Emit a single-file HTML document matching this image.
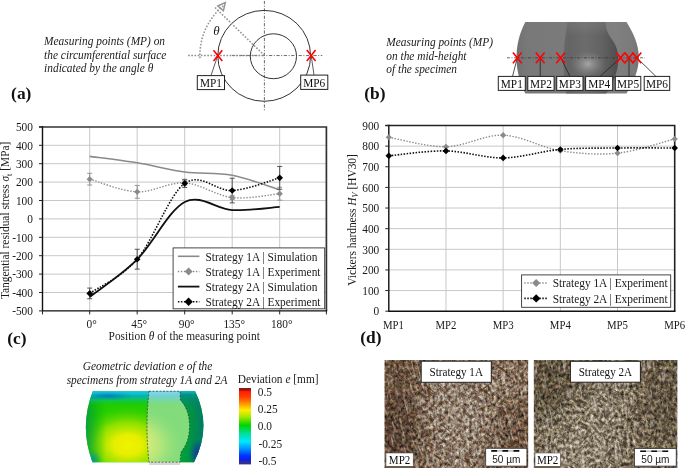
<!DOCTYPE html>
<html><head><meta charset="utf-8"><style>
html,body{margin:0;padding:0;background:#fff;font-family:"Liberation Serif",serif;width:685px;height:468px;overflow:hidden}
svg{display:block;will-change:transform}
</style></head><body>
<svg width="685" height="468" viewBox="0 0 685 468" font-family="'Liberation Serif', serif">
<text transform="translate(44.10,45.40) scale(0.965,1)" font-size="11.8" fill="#1a1a1a" font-style="italic">Measuring points (MP) on</text>
<text transform="translate(44.10,58.90) scale(0.965,1)" font-size="11.8" fill="#1a1a1a" font-style="italic">the circumferential surface</text>
<text transform="translate(44.10,72.40) scale(0.965,1)" font-size="11.8" fill="#1a1a1a" font-style="italic">indicated by the angle θ</text>
<text transform="translate(11.10,98.60)" font-size="17.4" fill="#111" font-weight="bold">(a)</text>
<g stroke="#444" stroke-width="0.8" fill="none" stroke-dasharray="3.2,1.6,1,1.6"><line x1="232" y1="55.55" x2="322.3" y2="55.55"/><line x1="264.40" y1="0.9" x2="264.40" y2="110.6"/></g>
<line x1="188.1" y1="55.55" x2="264.40" y2="55.55" stroke="#8a8a8a" stroke-width="1.4" stroke-dasharray="1.6,1.6"/>
<ellipse cx="264.2" cy="55.85" rx="46.4" ry="45.45" fill="none" stroke="#333" stroke-width="1"/>
<ellipse cx="273.4" cy="56.25" rx="23.1" ry="22.45" fill="none" stroke="#333" stroke-width="1"/>
<line x1="264.4" y1="55.5" x2="213.9" y2="6.4" stroke="#959595" stroke-width="1.6" stroke-dasharray="1.6,1.6"/>
<path d="M199.95,58.14 A64.5,64.5 0 0 1 224.25,5.07" fill="none" stroke="#959595" stroke-width="1.6" stroke-dasharray="1.6,1.6"/>
<path d="M217.8,6.0 L225.3,2.6 L223.4,10.6 Z" fill="none" stroke="#959595" stroke-width="1.5" stroke-linejoin="miter"/>
<text transform="translate(213.20,35.30)" font-size="13" fill="#1a1a1a" font-style="italic">θ</text>
<line x1="217.7" y1="55.7" x2="211" y2="75.5" stroke="#333" stroke-width="0.8"/>
<line x1="311.2" y1="55.5" x2="314" y2="75" stroke="#333" stroke-width="0.8"/>
<rect x="197.30" y="75.60" width="27.20" height="14.00" fill="#fff" stroke="#222" stroke-width="1"/><text transform="translate(210.90,87.00) scale(0.900,1)" font-size="12.6" fill="#111" text-anchor="middle">MP1</text>
<rect x="300.70" y="75.10" width="27.10" height="14.30" fill="#fff" stroke="#222" stroke-width="1"/><text transform="translate(314.25,86.80) scale(0.900,1)" font-size="12.6" fill="#111" text-anchor="middle">MP6</text>
<path d="M213.50,50.30 L222.30,61.10 M222.30,50.30 L213.50,61.10" stroke="#ff0000" stroke-width="1.6" fill="none"/>
<path d="M306.80,50.10 L315.60,60.90 M315.60,50.10 L306.80,60.90" stroke="#ff0000" stroke-width="1.6" fill="none"/>
<text transform="translate(386.30,45.90) scale(0.965,1)" font-size="11.8" fill="#1a1a1a" font-style="italic">Measuring points (MP)</text>
<text transform="translate(386.30,59.60) scale(0.965,1)" font-size="11.8" fill="#1a1a1a" font-style="italic">on the mid-height</text>
<text transform="translate(386.30,73.30) scale(0.965,1)" font-size="11.8" fill="#1a1a1a" font-style="italic">of the specimen</text>
<text transform="translate(364.30,98.60)" font-size="17.4" fill="#111" font-weight="bold">(b)</text>
<defs>
<linearGradient id="bodyg" x1="516" y1="0" x2="640" y2="0" gradientUnits="userSpaceOnUse">
<stop offset="0" stop-color="#707070"/><stop offset="0.08" stop-color="#787878"/><stop offset="0.5" stop-color="#7c7c7c"/><stop offset="0.8" stop-color="#808080"/><stop offset="0.95" stop-color="#7a7a7a"/><stop offset="1" stop-color="#727272"/>
</linearGradient>
<linearGradient id="holeg" x1="563" y1="0" x2="619" y2="0" gradientUnits="userSpaceOnUse">
<stop offset="0" stop-color="#6a6a6a"/><stop offset="0.1" stop-color="#646464"/><stop offset="0.4" stop-color="#6c6c6c"/><stop offset="0.7" stop-color="#626262"/><stop offset="0.9" stop-color="#545454"/><stop offset="1" stop-color="#4c4c4c"/>
</linearGradient>
<linearGradient id="holetop" x1="0" y1="22" x2="0" y2="36" gradientUnits="userSpaceOnUse">
<stop offset="0" stop-color="#8a8a8a" stop-opacity="0.35"/><stop offset="1" stop-color="#8a8a8a" stop-opacity="0"/></linearGradient>
<radialGradient id="holehl" cx="588" cy="64" r="15" gradientTransform="translate(588,64) scale(1.2,0.9) translate(-588,-64)" gradientUnits="userSpaceOnUse">
<stop offset="0" stop-color="#a6a6a6"/><stop offset="0.5" stop-color="#8c8c8c" stop-opacity="0.6"/><stop offset="1" stop-color="#7a7a7a" stop-opacity="0"/></radialGradient>
</defs>
<path d="M525.3,22 L626.5,22 C633.5,33 638.8,45 638.8,57.7 C638.8,70 633.5,82 626.5,93.6 L525.3,93.6 C519.5,82 516.5,70 516.5,57.7 C516.5,45 519.5,33 525.3,22 Z" fill="url(#bodyg)"/>
<path d="M567.5,22 L605.3,22 C605.5,30 609,35 613,41 C617,47 618.4,53 618.3,60 C618,72 613,84 606,93.6 L566,93.6 C564,81 563.3,69 563.5,57 C563.8,45 565.5,33 567.5,22 Z" fill="url(#holeg)"/>
<path d="M567.5,22 L605.3,22 C605.5,30 609,35 613,41 C617,47 618.4,53 618.3,60 C618,72 613,84 606,93.6 L566,93.6 C564,81 563.3,69 563.5,57 C563.8,45 565.5,33 567.5,22 Z" fill="url(#holetop)"/>
<path d="M567.5,22 L605.3,22 C605.5,30 609,35 613,41 C617,47 618.4,53 618.3,60 C618,72 613,84 606,93.6 L566,93.6 C564,81 563.3,69 563.5,57 C563.8,45 565.5,33 567.5,22 Z" fill="url(#holehl)"/>
<line x1="507" y1="57.8" x2="645" y2="57.8" stroke="#333" stroke-width="0.7" stroke-dasharray="3,1.5,1,1.5"/>
<line x1="517.3" y1="57.8" x2="512.5" y2="76.5" stroke="#222" stroke-width="0.8"/>
<line x1="540.2" y1="57.8" x2="540.2" y2="76.5" stroke="#222" stroke-width="0.8"/>
<line x1="560.7" y1="57.8" x2="570.0" y2="76.5" stroke="#222" stroke-width="0.8"/>
<line x1="620.6" y1="57.8" x2="600.0" y2="76.5" stroke="#222" stroke-width="0.8"/>
<line x1="629.0" y1="57.8" x2="629.0" y2="76.5" stroke="#222" stroke-width="0.8"/>
<line x1="636.9" y1="57.8" x2="656.0" y2="76.5" stroke="#222" stroke-width="0.8"/>
<rect x="498.30" y="76.40" width="27.00" height="14.00" fill="#fff" stroke="#222" stroke-width="1"/><text transform="translate(511.80,87.80) scale(0.900,1)" font-size="12.6" fill="#111" text-anchor="middle">MP1</text>
<rect x="527.80" y="76.40" width="26.30" height="14.00" fill="#fff" stroke="#222" stroke-width="1"/><text transform="translate(540.95,87.80) scale(0.900,1)" font-size="12.6" fill="#111" text-anchor="middle">MP2</text>
<rect x="556.70" y="76.40" width="26.30" height="14.00" fill="#fff" stroke="#222" stroke-width="1"/><text transform="translate(569.85,87.80) scale(0.900,1)" font-size="12.6" fill="#111" text-anchor="middle">MP3</text>
<rect x="585.60" y="76.40" width="27.10" height="14.00" fill="#fff" stroke="#222" stroke-width="1"/><text transform="translate(599.15,87.80) scale(0.900,1)" font-size="12.6" fill="#111" text-anchor="middle">MP4</text>
<rect x="615.30" y="76.40" width="25.50" height="14.00" fill="#fff" stroke="#222" stroke-width="1"/><text transform="translate(628.05,87.80) scale(0.900,1)" font-size="12.6" fill="#111" text-anchor="middle">MP5</text>
<rect x="644.20" y="76.40" width="25.50" height="14.00" fill="#fff" stroke="#222" stroke-width="1"/><text transform="translate(656.95,87.80) scale(0.900,1)" font-size="12.6" fill="#111" text-anchor="middle">MP6</text>
<path d="M512.90,52.40 L521.70,63.20 M521.70,52.40 L512.90,63.20" stroke="#ff0000" stroke-width="1.6" fill="none"/>
<path d="M535.80,52.40 L544.60,63.20 M544.60,52.40 L535.80,63.20" stroke="#ff0000" stroke-width="1.6" fill="none"/>
<path d="M556.30,52.40 L565.10,63.20 M565.10,52.40 L556.30,63.20" stroke="#ff0000" stroke-width="1.6" fill="none"/>
<path d="M616.20,52.40 L625.00,63.20 M625.00,52.40 L616.20,63.20" stroke="#ff0000" stroke-width="1.6" fill="none"/>
<path d="M624.60,52.40 L633.40,63.20 M633.40,52.40 L624.60,63.20" stroke="#ff0000" stroke-width="1.6" fill="none"/>
<path d="M632.50,52.40 L641.30,63.20 M641.30,52.40 L632.50,63.20" stroke="#ff0000" stroke-width="1.6" fill="none"/>
<g stroke="#c8c8c8" stroke-width="1"><line x1="42.5" y1="292.50" x2="326.4" y2="292.50"/><line x1="42.5" y1="274.10" x2="326.4" y2="274.10"/><line x1="42.5" y1="255.70" x2="326.4" y2="255.70"/><line x1="42.5" y1="237.30" x2="326.4" y2="237.30"/><line x1="42.5" y1="218.90" x2="326.4" y2="218.90"/><line x1="42.5" y1="200.50" x2="326.4" y2="200.50"/><line x1="42.5" y1="182.10" x2="326.4" y2="182.10"/><line x1="42.5" y1="163.70" x2="326.4" y2="163.70"/><line x1="42.5" y1="145.30" x2="326.4" y2="145.30"/><line x1="89.70" y1="127.0" x2="89.70" y2="310.9"/><line x1="137.20" y1="127.0" x2="137.20" y2="310.9"/><line x1="184.70" y1="127.0" x2="184.70" y2="310.9"/><line x1="232.20" y1="127.0" x2="232.20" y2="310.9"/><line x1="279.70" y1="127.0" x2="279.70" y2="310.9"/></g>
<path d="M39.00,127.00 H326.40 V310.90" fill="none" stroke="#333" stroke-width="1.7"/>
<path d="M42.50,126.20 V310.90 H327.20" fill="none" stroke="#111" stroke-width="1.4"/>
<g stroke="#222" stroke-width="1"><line x1="39.0" y1="310.90" x2="42.5" y2="310.90"/><line x1="39.0" y1="292.50" x2="42.5" y2="292.50"/><line x1="39.0" y1="274.10" x2="42.5" y2="274.10"/><line x1="39.0" y1="255.70" x2="42.5" y2="255.70"/><line x1="39.0" y1="237.30" x2="42.5" y2="237.30"/><line x1="39.0" y1="218.90" x2="42.5" y2="218.90"/><line x1="39.0" y1="200.50" x2="42.5" y2="200.50"/><line x1="39.0" y1="182.10" x2="42.5" y2="182.10"/><line x1="39.0" y1="163.70" x2="42.5" y2="163.70"/><line x1="39.0" y1="145.30" x2="42.5" y2="145.30"/><line x1="39.0" y1="126.90" x2="42.5" y2="126.90"/><line x1="89.70" y1="310.9" x2="89.70" y2="314.4"/><line x1="137.20" y1="310.9" x2="137.20" y2="314.4"/><line x1="184.70" y1="310.9" x2="184.70" y2="314.4"/><line x1="232.20" y1="310.9" x2="232.20" y2="314.4"/><line x1="279.70" y1="310.9" x2="279.70" y2="314.4"/><line x1="42.50" y1="310.9" x2="42.50" y2="314.4"/><line x1="326.40" y1="310.9" x2="326.40" y2="314.4"/></g>
<text transform="translate(33.00,315.10) scale(0.965,1)" font-size="11.8" fill="#1a1a1a" text-anchor="end">-500</text>
<text transform="translate(33.00,296.70) scale(0.965,1)" font-size="11.8" fill="#1a1a1a" text-anchor="end">-400</text>
<text transform="translate(33.00,278.30) scale(0.965,1)" font-size="11.8" fill="#1a1a1a" text-anchor="end">-300</text>
<text transform="translate(33.00,259.90) scale(0.965,1)" font-size="11.8" fill="#1a1a1a" text-anchor="end">-200</text>
<text transform="translate(33.00,241.50) scale(0.965,1)" font-size="11.8" fill="#1a1a1a" text-anchor="end">-100</text>
<text transform="translate(33.00,223.10) scale(0.965,1)" font-size="11.8" fill="#1a1a1a" text-anchor="end">0</text>
<text transform="translate(33.00,204.70) scale(0.965,1)" font-size="11.8" fill="#1a1a1a" text-anchor="end">100</text>
<text transform="translate(33.00,186.30) scale(0.965,1)" font-size="11.8" fill="#1a1a1a" text-anchor="end">200</text>
<text transform="translate(33.00,167.90) scale(0.965,1)" font-size="11.8" fill="#1a1a1a" text-anchor="end">300</text>
<text transform="translate(33.00,149.50) scale(0.965,1)" font-size="11.8" fill="#1a1a1a" text-anchor="end">400</text>
<text transform="translate(33.00,131.10) scale(0.965,1)" font-size="11.8" fill="#1a1a1a" text-anchor="end">500</text>
<text transform="translate(91.70,327.90) scale(0.965,1)" font-size="11.8" fill="#1a1a1a" text-anchor="middle">0°</text>
<text transform="translate(139.20,327.90) scale(0.965,1)" font-size="11.8" fill="#1a1a1a" text-anchor="middle">45°</text>
<text transform="translate(186.70,327.90) scale(0.965,1)" font-size="11.8" fill="#1a1a1a" text-anchor="middle">90°</text>
<text transform="translate(234.20,327.90) scale(0.965,1)" font-size="11.8" fill="#1a1a1a" text-anchor="middle">135°</text>
<text transform="translate(281.70,327.90) scale(0.965,1)" font-size="11.8" fill="#1a1a1a" text-anchor="middle">180°</text>
<text transform="translate(184.20,340.00) scale(0.965,1)" font-size="11.8" fill="#1a1a1a" text-anchor="middle">Position <tspan font-style="italic">θ</tspan> of the measuring point</text>
<text transform="translate(9.00,220.40) rotate(-90) scale(0.965,1)" font-size="11.8" fill="#1a1a1a" text-anchor="middle">Tangential residual stress <tspan font-style="italic">σ</tspan><tspan font-size="8.5" dy="2.5">t</tspan><tspan dy="-2.5"> [MPa]</tspan></text>
<text transform="translate(7.20,343.50)" font-size="17.4" fill="#111" font-weight="bold">(c)</text>
<path d="M89.70,156.34 C97.62,157.41 121.37,160.17 137.20,162.78 C153.03,165.39 168.87,169.89 184.70,171.98 C200.53,174.07 216.37,172.32 232.20,175.29 C248.03,178.27 271.78,187.41 279.70,189.83" fill="none" stroke="#8a8a8a" stroke-width="1.6"/>
<path d="M89.70,179.16 C97.62,181.27 121.37,191.24 137.20,191.85 C153.03,192.47 168.87,181.89 184.70,182.84 C200.53,183.79 216.37,195.75 232.20,197.56 C248.03,199.37 271.78,194.34 279.70,193.69" fill="none" stroke="#8a8a8a" stroke-width="1.4" stroke-dasharray="1.4,1.6"/>
<path d="M89.70,296.92 C97.62,290.66 121.37,275.20 137.20,259.38 C153.03,243.56 168.87,210.19 184.70,201.97 C200.53,193.75 216.37,209.24 232.20,210.07 C248.03,210.90 271.78,207.46 279.70,206.94" fill="none" stroke="#111" stroke-width="1.8"/>
<path d="M89.70,293.42 C97.62,287.72 121.37,277.53 137.20,259.20 C153.03,240.86 168.87,194.83 184.70,183.39 C200.53,171.95 216.37,191.48 232.20,190.56 C248.03,189.64 271.78,179.98 279.70,177.87" fill="none" stroke="#111" stroke-width="1.6" stroke-dasharray="1.5,1.5"/>
<path d="M89.70,173.27 V185.04 M87.20,173.27 H92.20 M87.20,185.04 H92.20" stroke="#8a8a8a" stroke-width="0.9" fill="none"/><path d="M137.20,185.41 V198.29 M134.70,185.41 H139.70 M134.70,198.29 H139.70" stroke="#8a8a8a" stroke-width="0.9" fill="none"/><path d="M184.70,180.63 V185.04 M182.20,180.63 H187.20 M182.20,185.04 H187.20" stroke="#8a8a8a" stroke-width="0.9" fill="none"/><path d="M232.20,195.72 V199.40 M229.70,195.72 H234.70 M229.70,199.40 H234.70" stroke="#8a8a8a" stroke-width="0.9" fill="none"/><path d="M279.70,187.25 V200.13 M277.20,187.25 H282.20 M277.20,200.13 H282.20" stroke="#8a8a8a" stroke-width="0.9" fill="none"/><path d="M89.70,288.08 V298.76 M87.20,288.08 H92.20 M87.20,298.76 H92.20" stroke="#444" stroke-width="0.9" fill="none"/><path d="M137.20,249.26 V269.13 M134.70,249.26 H139.70 M134.70,269.13 H139.70" stroke="#444" stroke-width="0.9" fill="none"/><path d="M184.70,179.34 V187.44 M182.20,179.34 H187.20 M182.20,187.44 H187.20" stroke="#444" stroke-width="0.9" fill="none"/><path d="M232.20,178.24 V202.89 M229.70,178.24 H234.70 M229.70,202.89 H234.70" stroke="#444" stroke-width="0.9" fill="none"/><path d="M279.70,166.46 V189.28 M277.20,166.46 H282.20 M277.20,189.28 H282.20" stroke="#444" stroke-width="0.9" fill="none"/>
<path d="M89.70,176.06 L92.80,179.16 L89.70,182.26 L86.60,179.16 Z" fill="#8a8a8a"/>
<path d="M137.20,188.75 L140.30,191.85 L137.20,194.95 L134.10,191.85 Z" fill="#8a8a8a"/>
<path d="M184.70,179.74 L187.80,182.84 L184.70,185.94 L181.60,182.84 Z" fill="#8a8a8a"/>
<path d="M232.20,194.46 L235.30,197.56 L232.20,200.66 L229.10,197.56 Z" fill="#8a8a8a"/>
<path d="M279.70,190.59 L282.80,193.69 L279.70,196.79 L276.60,193.69 Z" fill="#8a8a8a"/>
<path d="M89.70,290.12 L93.00,293.42 L89.70,296.72 L86.40,293.42 Z" fill="#000"/>
<path d="M137.20,255.90 L140.50,259.20 L137.20,262.50 L133.90,259.20 Z" fill="#000"/>
<path d="M184.70,180.09 L188.00,183.39 L184.70,186.69 L181.40,183.39 Z" fill="#000"/>
<path d="M232.20,187.26 L235.50,190.56 L232.20,193.86 L228.90,190.56 Z" fill="#000"/>
<path d="M279.70,174.57 L283.00,177.87 L279.70,181.17 L276.40,177.87 Z" fill="#000"/>
<rect x="173.1" y="247.9" width="151.6" height="60.9" fill="#fff" stroke="#333" stroke-width="0.9"/>
<line x1="177.9" y1="256.3" x2="199.4" y2="256.3" stroke="#8a8a8a" stroke-width="1.6"/>
<line x1="177.9" y1="271.5" x2="199.4" y2="271.5" stroke="#8a8a8a" stroke-width="1.4" stroke-dasharray="1.4,1.6"/>
<path d="M188.60,267.50 L192.60,271.50 L188.60,275.50 L184.60,271.50 Z" fill="#8a8a8a"/>
<line x1="177.9" y1="286.6" x2="199.4" y2="286.6" stroke="#111" stroke-width="1.8"/>
<line x1="177.9" y1="301.7" x2="199.4" y2="301.7" stroke="#111" stroke-width="1.6" stroke-dasharray="1.5,1.5"/>
<path d="M188.60,297.50 L192.80,301.70 L188.60,305.90 L184.40,301.70 Z" fill="#000"/>
<text transform="translate(205.50,260.50) scale(0.965,1)" font-size="11.8" fill="#1a1a1a">Strategy 1A | Simulation</text>
<text transform="translate(205.50,275.70) scale(0.965,1)" font-size="11.8" fill="#1a1a1a">Strategy 1A | Experiment</text>
<text transform="translate(205.50,290.80) scale(0.965,1)" font-size="11.8" fill="#1a1a1a">Strategy 2A | Simulation</text>
<text transform="translate(205.50,305.90) scale(0.965,1)" font-size="11.8" fill="#1a1a1a">Strategy 2A | Experiment</text>
<g stroke="#c8c8c8" stroke-width="1"><line x1="388.8" y1="290.57" x2="674.7" y2="290.57"/><line x1="388.8" y1="269.93" x2="674.7" y2="269.93"/><line x1="388.8" y1="249.30" x2="674.7" y2="249.30"/><line x1="388.8" y1="228.67" x2="674.7" y2="228.67"/><line x1="388.8" y1="208.03" x2="674.7" y2="208.03"/><line x1="388.8" y1="187.40" x2="674.7" y2="187.40"/><line x1="388.8" y1="166.77" x2="674.7" y2="166.77"/><line x1="388.8" y1="146.13" x2="674.7" y2="146.13"/><line x1="445.98" y1="125.5" x2="445.98" y2="311.2"/><line x1="503.16" y1="125.5" x2="503.16" y2="311.2"/><line x1="560.34" y1="125.5" x2="560.34" y2="311.2"/><line x1="617.52" y1="125.5" x2="617.52" y2="311.2"/></g>
<path d="M385.30,125.50 H674.70 V311.20" fill="none" stroke="#222" stroke-width="1.6"/>
<path d="M388.80,124.70 V311.20 H675.50" fill="none" stroke="#111" stroke-width="1.4"/>
<g stroke="#222" stroke-width="1"><line x1="385.3" y1="311.20" x2="388.8" y2="311.20"/><line x1="385.3" y1="290.57" x2="388.8" y2="290.57"/><line x1="385.3" y1="269.93" x2="388.8" y2="269.93"/><line x1="385.3" y1="249.30" x2="388.8" y2="249.30"/><line x1="385.3" y1="228.67" x2="388.8" y2="228.67"/><line x1="385.3" y1="208.03" x2="388.8" y2="208.03"/><line x1="385.3" y1="187.40" x2="388.8" y2="187.40"/><line x1="385.3" y1="166.77" x2="388.8" y2="166.77"/><line x1="385.3" y1="146.13" x2="388.8" y2="146.13"/><line x1="385.3" y1="125.50" x2="388.8" y2="125.50"/></g>
<text transform="translate(379.30,315.40) scale(0.965,1)" font-size="11.8" fill="#1a1a1a" text-anchor="end">0</text>
<text transform="translate(379.30,294.77) scale(0.965,1)" font-size="11.8" fill="#1a1a1a" text-anchor="end">100</text>
<text transform="translate(379.30,274.13) scale(0.965,1)" font-size="11.8" fill="#1a1a1a" text-anchor="end">200</text>
<text transform="translate(379.30,253.50) scale(0.965,1)" font-size="11.8" fill="#1a1a1a" text-anchor="end">300</text>
<text transform="translate(379.30,232.87) scale(0.965,1)" font-size="11.8" fill="#1a1a1a" text-anchor="end">400</text>
<text transform="translate(379.30,212.23) scale(0.965,1)" font-size="11.8" fill="#1a1a1a" text-anchor="end">500</text>
<text transform="translate(379.30,191.60) scale(0.965,1)" font-size="11.8" fill="#1a1a1a" text-anchor="end">600</text>
<text transform="translate(379.30,170.97) scale(0.965,1)" font-size="11.8" fill="#1a1a1a" text-anchor="end">700</text>
<text transform="translate(379.30,150.33) scale(0.965,1)" font-size="11.8" fill="#1a1a1a" text-anchor="end">800</text>
<text transform="translate(379.30,129.70) scale(0.965,1)" font-size="11.8" fill="#1a1a1a" text-anchor="end">900</text>
<text transform="translate(393.50,328.80) scale(0.900,1)" font-size="12" fill="#1a1a1a" text-anchor="middle">MP1</text>
<text transform="translate(445.98,328.80) scale(0.900,1)" font-size="12" fill="#1a1a1a" text-anchor="middle">MP2</text>
<text transform="translate(503.16,328.80) scale(0.900,1)" font-size="12" fill="#1a1a1a" text-anchor="middle">MP3</text>
<text transform="translate(560.34,328.80) scale(0.900,1)" font-size="12" fill="#1a1a1a" text-anchor="middle">MP4</text>
<text transform="translate(617.52,328.80) scale(0.900,1)" font-size="12" fill="#1a1a1a" text-anchor="middle">MP5</text>
<text transform="translate(674.70,328.80) scale(0.900,1)" font-size="12" fill="#1a1a1a" text-anchor="middle">MP6</text>
<text transform="translate(355.60,220.00) rotate(-90) scale(0.965,1)" font-size="11.8" fill="#1a1a1a" text-anchor="middle">Vickers hardness <tspan font-style="italic">H</tspan><tspan font-style="italic" font-size="8.5" dy="2.5">V</tspan><tspan dy="-2.5"> [HV30]</tspan></text>
<text transform="translate(360.20,343.40)" font-size="17.4" fill="#111" font-weight="bold">(d)</text>
<path d="M388.80,137.26 C398.33,138.84 426.92,147.10 445.98,146.75 C465.04,146.41 484.10,134.54 503.16,135.20 C522.22,135.85 541.28,147.68 560.34,150.67 C579.40,153.66 598.46,155.11 617.52,153.15 C636.58,151.19 665.17,141.28 674.70,138.91" fill="none" stroke="#8a8a8a" stroke-width="1.4" stroke-dasharray="1.4,1.6"/>
<path d="M388.80,155.83 C398.33,155.01 426.92,150.54 445.98,150.88 C465.04,151.22 484.10,158.14 503.16,157.89 C522.22,157.65 541.28,151.09 560.34,149.43 C579.40,147.78 598.46,148.23 617.52,147.99 C636.58,147.75 665.17,147.99 674.70,147.99" fill="none" stroke="#111" stroke-width="1.6" stroke-dasharray="1.5,1.5"/>
<path d="M388.80,134.16 L391.90,137.26 L388.80,140.36 L385.70,137.26 Z" fill="#8a8a8a"/>
<path d="M445.98,143.65 L449.08,146.75 L445.98,149.85 L442.88,146.75 Z" fill="#8a8a8a"/>
<path d="M503.16,132.10 L506.26,135.20 L503.16,138.30 L500.06,135.20 Z" fill="#8a8a8a"/>
<path d="M560.34,147.57 L563.44,150.67 L560.34,153.77 L557.24,150.67 Z" fill="#8a8a8a"/>
<path d="M617.52,150.05 L620.62,153.15 L617.52,156.25 L614.42,153.15 Z" fill="#8a8a8a"/>
<path d="M674.70,135.81 L677.80,138.91 L674.70,142.01 L671.60,138.91 Z" fill="#8a8a8a"/>
<path d="M388.80,152.53 L392.10,155.83 L388.80,159.13 L385.50,155.83 Z" fill="#000"/>
<path d="M445.98,147.58 L449.28,150.88 L445.98,154.18 L442.68,150.88 Z" fill="#000"/>
<path d="M503.16,154.59 L506.46,157.89 L503.16,161.19 L499.86,157.89 Z" fill="#000"/>
<path d="M560.34,146.13 L563.64,149.43 L560.34,152.73 L557.04,149.43 Z" fill="#000"/>
<path d="M617.52,144.69 L620.82,147.99 L617.52,151.29 L614.22,147.99 Z" fill="#000"/>
<path d="M674.70,144.69 L678.00,147.99 L674.70,151.29 L671.40,147.99 Z" fill="#000"/>
<rect x="521.6" y="274.9" width="149.1" height="32.4" fill="#fff" stroke="#333" stroke-width="0.9"/>
<line x1="524.3" y1="283.0" x2="548" y2="283.0" stroke="#8a8a8a" stroke-width="1.4" stroke-dasharray="1.4,1.6"/>
<path d="M536.20,279.00 L540.20,283.00 L536.20,287.00 L532.20,283.00 Z" fill="#8a8a8a"/>
<line x1="524.3" y1="298.4" x2="548" y2="298.4" stroke="#111" stroke-width="1.6" stroke-dasharray="1.5,1.5"/>
<path d="M536.20,294.20 L540.40,298.40 L536.20,302.60 L532.00,298.40 Z" fill="#000"/>
<text transform="translate(552.70,287.20) scale(0.965,1)" font-size="11.8" fill="#1a1a1a">Strategy 1A | Experiment</text>
<text transform="translate(552.70,302.60) scale(0.965,1)" font-size="11.8" fill="#1a1a1a">Strategy 2A | Experiment</text>
<text transform="translate(147.60,370.00) scale(0.965,1)" font-size="11.8" fill="#1a1a1a" text-anchor="middle" font-style="italic">Geometric deviation <tspan>e</tspan> of the</text>
<text transform="translate(147.00,383.90) scale(0.965,1)" font-size="11.8" fill="#1a1a1a" text-anchor="middle" font-style="italic">specimens from strategy 1A and 2A</text>
<defs>
<clipPath id="barrel"><path d="M92.8,391.2 L195,391.2 Q212.5,426.5 194,462.2 L92.5,462.2 Q79,426.5 92.8,391.2 Z"/></clipPath>
<radialGradient id="ysp" cx="128" cy="445" r="48" gradientTransform="translate(128,445) scale(1.2,0.85) translate(-128,-445)" gradientUnits="userSpaceOnUse">
<stop offset="0" stop-color="#f2f200"/><stop offset="0.25" stop-color="#e6ee00"/><stop offset="0.55" stop-color="#a8e600" stop-opacity="0.8"/><stop offset="0.8" stop-color="#60da00" stop-opacity="0.4"/><stop offset="1" stop-color="#30d000" stop-opacity="0"/></radialGradient>
<radialGradient id="blc" cx="92" cy="460" r="10" gradientUnits="userSpaceOnUse"><stop offset="0" stop-color="#0090b0" stop-opacity="0.9"/><stop offset="1" stop-color="#00a080" stop-opacity="0"/></radialGradient>
<linearGradient id="topband" x1="0" y1="391.2" x2="0" y2="406" gradientUnits="userSpaceOnUse">
<stop offset="0" stop-color="#10c8e0"/><stop offset="0.15" stop-color="#10c0d8"/><stop offset="0.35" stop-color="#00b0c0" stop-opacity="0.85"/><stop offset="0.65" stop-color="#00c090" stop-opacity="0.5"/><stop offset="1" stop-color="#00d000" stop-opacity="0"/></linearGradient>
<radialGradient id="bstreak" cx="108" cy="396" r="20" gradientTransform="translate(108,396) scale(1.3,0.22) translate(-108,-396)" gradientUnits="userSpaceOnUse">
<stop offset="0" stop-color="#0058c0" stop-opacity="0.6"/><stop offset="1" stop-color="#0070c0" stop-opacity="0"/></radialGradient>
<linearGradient id="leftedge" x1="84" y1="0" x2="106" y2="0" gradientUnits="userSpaceOnUse">
<stop offset="0" stop-color="#009058" stop-opacity="0.85"/><stop offset="1" stop-color="#00b000" stop-opacity="0"/></linearGradient>
<linearGradient id="rightreg" x1="180" y1="0" x2="208" y2="0" gradientUnits="userSpaceOnUse">
<stop offset="0" stop-color="#00a43c"/><stop offset="0.45" stop-color="#009044"/><stop offset="0.8" stop-color="#007c68"/><stop offset="1" stop-color="#006890"/></linearGradient>
<linearGradient id="righttop" x1="0" y1="391" x2="0" y2="412" gradientUnits="userSpaceOnUse">
<stop offset="0" stop-color="#10c0d0"/><stop offset="0.2" stop-color="#008a90" stop-opacity="0.8"/><stop offset="1" stop-color="#008060" stop-opacity="0"/></linearGradient>
<radialGradient id="bsp" cx="199" cy="454" r="13" gradientTransform="translate(199,454) scale(0.8,1.2) translate(-199,-454)" gradientUnits="userSpaceOnUse">
<stop offset="0" stop-color="#1828a0"/><stop offset="0.5" stop-color="#104890" stop-opacity="0.7"/><stop offset="1" stop-color="#006080" stop-opacity="0"/></radialGradient>
<linearGradient id="cbar" x1="0" y1="388" x2="0" y2="464.4" gradientUnits="userSpaceOnUse">
<stop offset="0" stop-color="#901818"/><stop offset="0.03" stop-color="#a01010"/><stop offset="0.04" stop-color="#ff1a00"/>
<stop offset="0.12" stop-color="#ff4000"/><stop offset="0.2" stop-color="#ff9000"/><stop offset="0.29" stop-color="#ffee00"/>
<stop offset="0.38" stop-color="#a0e800"/><stop offset="0.49" stop-color="#00d400"/><stop offset="0.6" stop-color="#00e0a0"/>
<stop offset="0.7" stop-color="#00e8ff"/><stop offset="0.8" stop-color="#0090ff"/><stop offset="0.89" stop-color="#0030ff"/>
<stop offset="0.95" stop-color="#1020e0"/><stop offset="0.965" stop-color="#303090"/><stop offset="1" stop-color="#303090"/></linearGradient>
</defs>
<g clip-path="url(#barrel)"><rect x="80" y="390" width="135" height="75" fill="#22cc00"/><rect x="80" y="390" width="135" height="75" fill="url(#ysp)"/><rect x="80" y="390" width="135" height="75" fill="url(#leftedge)"/><rect x="80" y="440" width="30" height="25" fill="url(#blc)"/><rect x="80" y="390" width="135" height="25" fill="url(#topband)"/><rect x="80" y="390" width="135" height="25" fill="url(#bstreak)"/><path d="M180,390 L180,400 Q190,410 189.5,426 Q190,442 181,452 L180,465 L215,465 L215,390 Z" fill="url(#rightreg)"/><path d="M180,390 L180,400 Q190,410 189.5,426 Q190,442 181,452 L180,465 L215,465 L215,390 Z" fill="url(#righttop)"/><rect x="180" y="430" width="35" height="35" fill="url(#bsp)"/></g>
<path d="M149,462.5 L180,462.5 L180,465 L149,465 Z" fill="#d8d8d8"/>
<path d="M149,391.2 L180,391.2 L180.5,400 Q189.5,410 189.5,426 Q189.5,442 181,452 L180,462.2 L149,462.2 Q145,426 149,391.2 Z" fill="#e2ecf6" fill-opacity="0.5" stroke="#333" stroke-width="0.7" stroke-dasharray="2,1.5"/>
<rect x="239" y="388" width="12" height="76.4" fill="url(#cbar)"/>
<text transform="translate(237.70,383.10) scale(0.965,1)" font-size="11.8" fill="#1a1a1a">Deviation <tspan font-style="italic">e</tspan> [mm]</text>
<text transform="translate(257.80,395.80) scale(0.965,1)" font-size="11.8" fill="#1a1a1a">0.5</text>
<text transform="translate(257.80,413.00) scale(0.965,1)" font-size="11.8" fill="#1a1a1a">0.25</text>
<text transform="translate(257.80,430.40) scale(0.965,1)" font-size="11.8" fill="#1a1a1a">0.0</text>
<text transform="translate(258.40,447.70) scale(0.965,1)" font-size="11.8" fill="#1a1a1a">-0.25</text>
<text transform="translate(258.40,464.60) scale(0.965,1)" font-size="11.8" fill="#1a1a1a">-0.5</text>
<defs>
<filter id="soft" x="-80%" y="-80%" width="260%" height="260%"><feGaussianBlur stdDeviation="12"/></filter>
<filter id="mtex1" x="0" y="0" width="100%" height="100%" color-interpolation-filters="sRGB">
<feTurbulence type="fractalNoise" baseFrequency="0.33 0.27" numOctaves="3" seed="11" result="n"/>
<feColorMatrix in="n" type="matrix" values="1.1 0.25 0 0 -0.175  1.1 0.05 0 0 -0.075  1.1 0 0.2 0 -0.15  0 0 0 0 1" result="g"/>
<feBlend in="g" in2="SourceGraphic" mode="overlay"/>
</filter>
<filter id="mtex2" x="0" y="0" width="100%" height="100%" color-interpolation-filters="sRGB">
<feTurbulence type="fractalNoise" baseFrequency="0.33 0.27" numOctaves="3" seed="5" result="n"/>
<feColorMatrix in="n" type="matrix" values="1.1 0.15 0 0 -0.125  1.1 0.05 0 0 -0.075  1.1 0 0.15 0 -0.125  0 0 0 0 1" result="g"/>
<feBlend in="g" in2="SourceGraphic" mode="overlay"/>
</filter>
<filter id="mblur" x="-2%" y="-2%" width="104%" height="104%"><feGaussianBlur stdDeviation="0.45"/></filter>
<filter id="strk1" x="0" y="0" width="100%" height="100%" color-interpolation-filters="sRGB">
<feTurbulence type="fractalNoise" baseFrequency="0.07 0.42" numOctaves="2" seed="3"/>
<feColorMatrix type="matrix" values="0 0 0 0 0.32  0 0 0 0 0.2  0 0 0 0 0.12  4.5 0 0 0 -2.55"/>
</filter>
<filter id="strk2" x="0" y="0" width="100%" height="100%" color-interpolation-filters="sRGB">
<feTurbulence type="fractalNoise" baseFrequency="0.07 0.42" numOctaves="2" seed="17"/>
<feColorMatrix type="matrix" values="0 0 0 0 0.28  0 0 0 0 0.22  0 0 0 0 0.16  4.5 0 0 0 -2.55"/>
</filter>
<filter id="strkL" x="0" y="0" width="100%" height="100%" color-interpolation-filters="sRGB">
<feTurbulence type="fractalNoise" baseFrequency="0.07 0.42" numOctaves="2" seed="41"/>
<feColorMatrix type="matrix" values="0 0 0 0 0.9  0 0 0 0 0.88  0 0 0 0 0.84  4 0 0 0 -2.3"/>
</filter>
<clipPath id="cm1"><rect x="384.5" y="360.1" width="143.7" height="108"/></clipPath>
<clipPath id="cm2"><rect x="533.8" y="360.1" width="143.6" height="108"/></clipPath>
</defs>
<g clip-path="url(#cm1)"><g filter="url(#mblur)"><g filter="url(#mtex1)">
<rect x="384.5" y="360.1" width="143.7" height="108.0" fill="#745c48"/>
<ellipse cx="456.0" cy="422.0" rx="40.0" ry="58.0" fill="#aca494" fill-opacity="0.6" filter="url(#soft)" transform="rotate(-8 456.0 422.0)"/>
<ellipse cx="505.0" cy="380.0" rx="26.0" ry="22.0" fill="#b8b0a0" fill-opacity="0.45" filter="url(#soft)" transform="rotate(0 505.0 380.0)"/>
<ellipse cx="440.0" cy="372.0" rx="18.0" ry="10.0" fill="#c0b8a8" fill-opacity="0.35" filter="url(#soft)" transform="rotate(0 440.0 372.0)"/>
<ellipse cx="400.0" cy="430.0" rx="20.0" ry="42.0" fill="#3a2a1c" fill-opacity="0.55" filter="url(#soft)" transform="rotate(0 400.0 430.0)"/>
<ellipse cx="400.0" cy="375.0" rx="16.0" ry="14.0" fill="#3a2a1c" fill-opacity="0.3" filter="url(#soft)" transform="rotate(0 400.0 375.0)"/>
<ellipse cx="512.0" cy="430.0" rx="18.0" ry="28.0" fill="#4a3a2a" fill-opacity="0.3" filter="url(#soft)" transform="rotate(0 512.0 430.0)"/>
</g>
<g transform="rotate(35 456 414)"><rect x="356" y="314" width="200" height="200" filter="url(#strk1)"/></g>
<g transform="rotate(-40 456 414)"><rect x="356" y="314" width="200" height="200" filter="url(#strk1)" opacity="0.8"/></g>
<g transform="rotate(75 456 414)"><rect x="356" y="314" width="200" height="200" filter="url(#strkL)" opacity="0.6"/></g>
</g></g>
<g clip-path="url(#cm2)"><g filter="url(#mblur)"><g filter="url(#mtex2)">
<rect x="533.8" y="360.1" width="143.6" height="108.0" fill="#716450"/>
<ellipse cx="582.0" cy="440.0" rx="46.0" ry="40.0" fill="#b0a896" fill-opacity="0.55" filter="url(#soft)" transform="rotate(0 582.0 440.0)"/>
<ellipse cx="615.0" cy="395.0" rx="28.0" ry="18.0" fill="#b8b2a0" fill-opacity="0.35" filter="url(#soft)" transform="rotate(0 615.0 395.0)"/>
<ellipse cx="548.0" cy="395.0" rx="14.0" ry="34.0" fill="#3a3222" fill-opacity="0.45" filter="url(#soft)" transform="rotate(0 548.0 395.0)"/>
<ellipse cx="668.0" cy="405.0" rx="14.0" ry="40.0" fill="#3a3222" fill-opacity="0.4" filter="url(#soft)" transform="rotate(0 668.0 405.0)"/>
<ellipse cx="560.0" cy="368.0" rx="22.0" ry="10.0" fill="#3a3222" fill-opacity="0.3" filter="url(#soft)" transform="rotate(0 560.0 368.0)"/>
<ellipse cx="650.0" cy="455.0" rx="22.0" ry="14.0" fill="#b0a890" fill-opacity="0.3" filter="url(#soft)" transform="rotate(0 650.0 455.0)"/>
</g>
<g transform="rotate(30 605 414)"><rect x="505" y="314" width="200" height="200" filter="url(#strk2)"/></g>
<g transform="rotate(-45 605 414)"><rect x="505" y="314" width="200" height="200" filter="url(#strk2)" opacity="0.8"/></g>
<g transform="rotate(80 605 414)"><rect x="505" y="314" width="200" height="200" filter="url(#strkL)" opacity="0.6"/></g>
</g></g>
<rect x="421.20" y="361.20" width="70.10" height="21.10" fill="#fff" stroke="#222" stroke-width="1"/><text transform="translate(456.25,375.90) scale(0.960,1)" font-size="11.6" fill="#111" text-anchor="middle">Strategy 1A</text>
<rect x="570.40" y="361.30" width="70.00" height="20.90" fill="#fff" stroke="#222" stroke-width="1"/><text transform="translate(605.40,376.00) scale(0.960,1)" font-size="11.6" fill="#111" text-anchor="middle">Strategy 2A</text>
<rect x="386.00" y="453.00" width="27.20" height="13.30" fill="#fff" stroke="#555" stroke-width="0.6"/><text transform="translate(399.60,463.70) scale(0.945,1)" font-size="11.7" fill="#111" text-anchor="middle">MP2</text>
<rect x="385.7" y="466.3" width="27.8" height="2" fill="#6a5a48"/>
<rect x="535.00" y="453.00" width="25.30" height="13.30" fill="#fff" stroke="#555" stroke-width="0.6"/><text transform="translate(547.65,463.70) scale(0.945,1)" font-size="11.7" fill="#111" text-anchor="middle">MP2</text>
<rect x="534.7" y="466.3" width="25.9" height="2" fill="#6a5a48"/>
<rect x="485.7" y="448.3" width="41.2" height="17.8" fill="#fff" stroke="#333" stroke-width="0.8"/>
<line x1="491.3" y1="450.9" x2="519.3" y2="450.9" stroke="#bbb" stroke-width="1.6"/>
<line x1="491.3" y1="450.9" x2="519.3" y2="450.9" stroke="#111" stroke-width="1.6" stroke-dasharray="5.8,5.3"/>
<text transform="translate(506.30,463.20) scale(0.920,1)" font-size="11" fill="#1a1a1a" text-anchor="middle" font-family="Liberation Sans, sans-serif">50 µm</text>
<rect x="634.6" y="448.6" width="41.6" height="17.5" fill="#fff" stroke="#333" stroke-width="0.8"/>
<line x1="640.2" y1="451.2" x2="668.2" y2="451.2" stroke="#bbb" stroke-width="1.6"/>
<line x1="640.2" y1="451.2" x2="668.2" y2="451.2" stroke="#111" stroke-width="1.6" stroke-dasharray="5.8,5.3"/>
<text transform="translate(655.40,463.20) scale(0.920,1)" font-size="11" fill="#1a1a1a" text-anchor="middle" font-family="Liberation Sans, sans-serif">50 µm</text>
</svg>
</body></html>
